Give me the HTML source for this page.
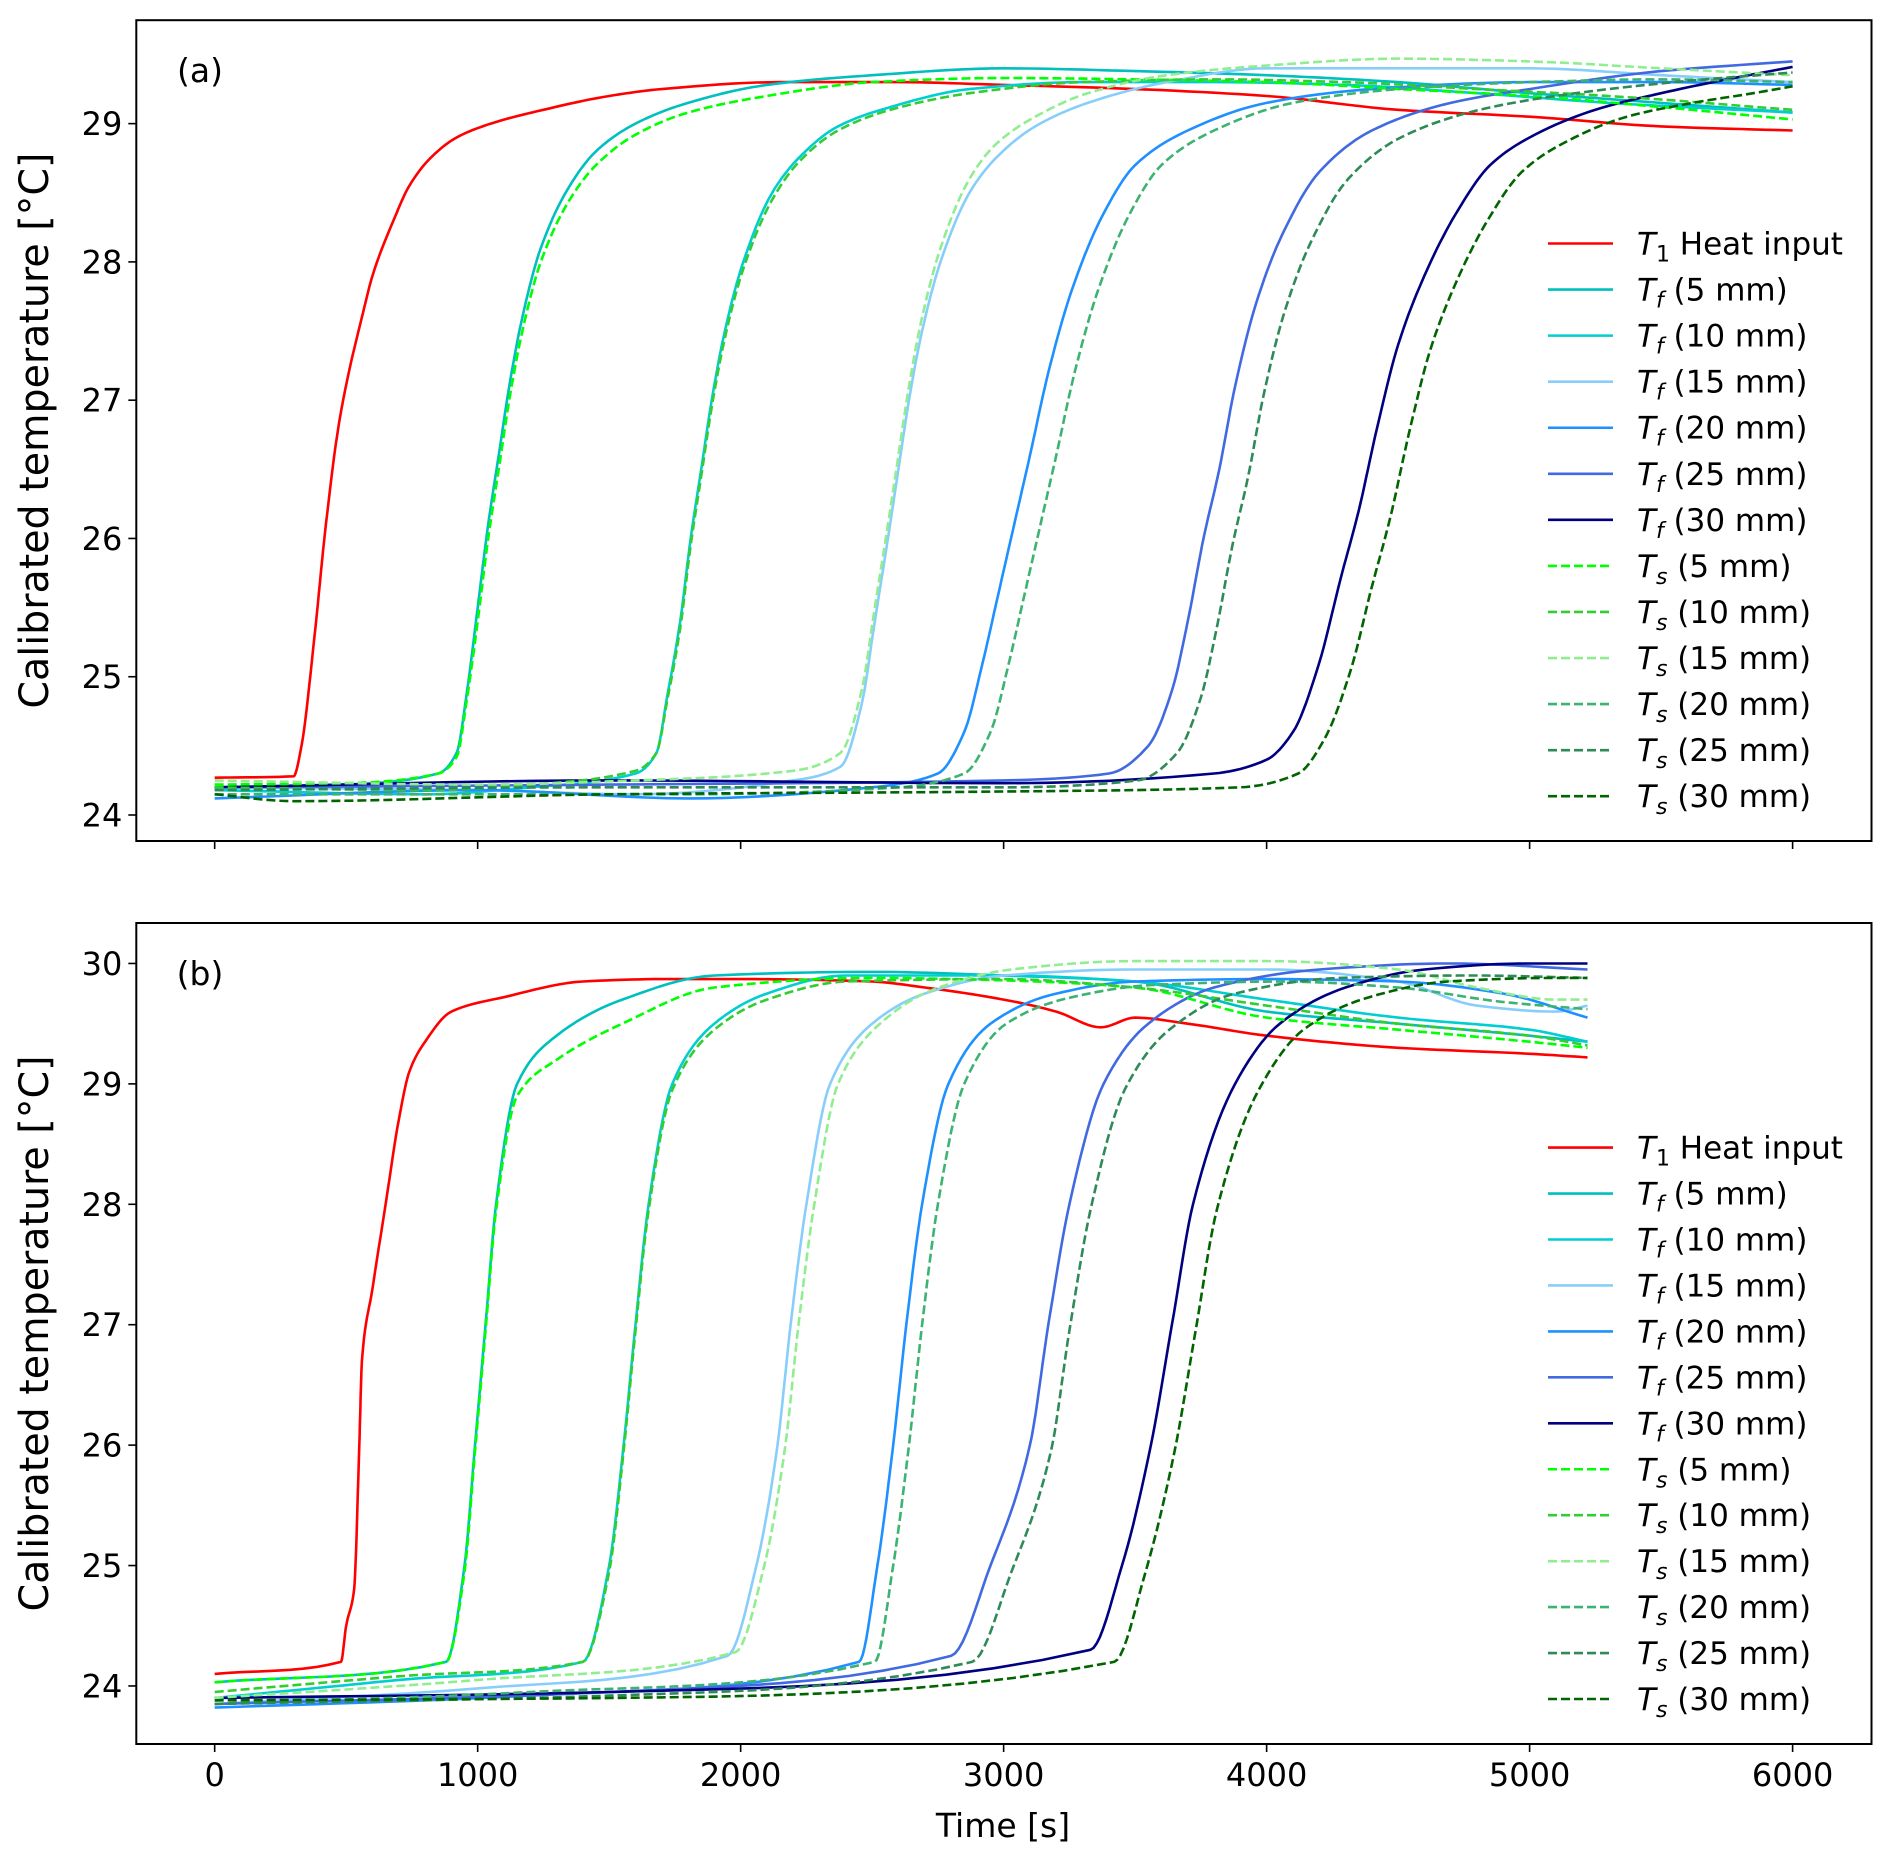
<!DOCTYPE html>
<html><head><meta charset="utf-8"><style>
html,body{margin:0;padding:0;background:#fff}
svg{display:block}
text{font-family:"DejaVu Sans","Liberation Sans",sans-serif;fill:#000}
</style></head><body>
<svg id="fig" width="1892" height="1863" viewBox="0 0 1892 1863" xmlns="http://www.w3.org/2000/svg"></svg>
<script>
// ---- data (panel a) ----
const a_T1_t=[0,300,330,380,420,470,510,560,600,680,740,820,920,1050,1250,1500,1700,2150,2600,3000,3500,4000,4500,5000,5500,6000];
const a_T1_v=[24.27,24.28,24.5,25.3,26.05,26.8,27.2,27.6,27.9,28.3,28.55,28.75,28.9,29.0,29.1,29.2,29.25,29.3,29.3,29.28,29.25,29.2,29.1,29.05,28.98,28.95];
const a_Tf5_t=[0,500,850,920,960,1000,1040,1080,1120,1170,1240,1350,1450,1600,1800,2100,2500,3000,3500,4000,4500,5000,5500,6000];
const a_Tf5_v=[24.2,24.22,24.3,24.45,24.9,25.5,26.1,26.6,27.1,27.6,28.1,28.55,28.8,29.0,29.15,29.28,29.35,29.4,29.38,29.35,29.3,29.22,29.15,29.08];
const a_Ts5_v=[24.22,24.23,24.3,24.42,24.85,25.4,26.0,26.5,27.0,27.5,28.0,28.45,28.7,28.92,29.08,29.2,29.3,29.33,29.32,29.3,29.25,29.2,29.12,29.03];
const a_Tf10_t=[0,800,1200,1600,1680,1720,1770,1810,1850,1890,1940,2010,2120,2220,2370,2570,2870,3300,3800,4300,4800,5300,6000];
const a_Tf10_v=[24.18,24.15,24.2,24.3,24.45,24.85,25.4,26.0,26.5,27.0,27.5,28.0,28.5,28.75,28.98,29.12,29.25,29.3,29.3,29.28,29.22,29.15,29.08];
const a_Ts10_v=[24.2,24.18,24.22,24.32,24.45,24.82,25.35,25.95,26.45,26.95,27.45,27.95,28.45,28.72,28.95,29.1,29.22,29.3,29.32,29.3,29.25,29.2,29.1];
const a_Tf15_t=[0,1000,1600,2200,2380,2460,2510,2560,2600,2640,2690,2760,2870,2970,3120,3320,3620,4000,4500,5000,5500,6000];
const a_Tf15_v=[24.2,24.18,24.15,24.25,24.35,24.8,25.4,26.0,26.5,27.0,27.5,28.0,28.5,28.75,28.98,29.15,29.3,29.4,29.4,29.4,29.35,29.3];
const a_Ts15_v=[24.25,24.22,24.25,24.32,24.45,24.9,25.5,26.1,26.6,27.1,27.6,28.1,28.6,28.85,29.05,29.22,29.35,29.42,29.47,29.45,29.4,29.35];
const a_Tf20_t=[0,1000,1800,2500,2750,2850,2920,2980,3040,3100,3170,3260,3380,3500,3700,4000,4400,5000,5500,6000];
const a_Tf20_v=[24.12,24.18,24.12,24.2,24.3,24.6,25.1,25.6,26.1,26.6,27.2,27.8,28.35,28.7,28.95,29.15,29.25,29.3,29.3,29.28];
const a_Ts20_t=[0,1000,1800,2600,2850,2950,3020,3080,3140,3200,3270,3360,3480,3600,3800,4100,4500,5000,5500,6000];
const a_Ts20_v=[24.15,24.15,24.15,24.2,24.3,24.6,25.1,25.6,26.1,26.6,27.2,27.8,28.35,28.7,28.95,29.15,29.25,29.3,29.32,29.3];
const a_Tf25_t=[0,1500,3000,3400,3550,3640,3700,3760,3820,3880,3960,4060,4200,4400,4700,5000,5500,6000];
const a_Tf25_v=[24.2,24.22,24.25,24.3,24.5,24.9,25.4,26.0,26.5,27.1,27.7,28.2,28.65,28.95,29.15,29.25,29.38,29.45];
const a_Ts25_t=[0,1500,3000,3510,3660,3750,3810,3870,3930,3990,4070,4170,4310,4510,4810,5100,5550,6000];
const a_Ts25_v=[24.18,24.2,24.2,24.25,24.45,24.85,25.35,25.95,26.45,27.05,27.65,28.15,28.6,28.9,29.1,29.2,29.3,29.37];
const a_Tf30_t=[0,1500,3000,3800,4000,4100,4200,4280,4350,4420,4500,4600,4720,4850,5000,5250,5500,5750,6000];
const a_Tf30_v=[24.2,24.25,24.23,24.3,24.4,24.6,25.1,25.7,26.2,26.8,27.4,27.9,28.35,28.7,28.9,29.1,29.22,29.32,29.41];
const a_Ts30_t=[0,300,1500,3000,3900,4120,4220,4320,4400,4470,4540,4620,4720,4840,4970,5120,5370,5620,5850,6000];
const a_Ts30_v=[24.15,24.1,24.15,24.17,24.2,24.3,24.55,25.05,25.65,26.15,26.75,27.35,27.85,28.3,28.65,28.85,29.05,29.15,29.22,29.27];
// ---- data (panel b) ----
const b_T1_t=[0,480,500,530,550,560,600,650,700,740,800,900,1100,1400,1700,2000,2500,2700,3000,3200,3370,3500,3700,4000,4500,5000,5220];
const b_T1_v=[24.1,24.2,24.5,24.8,26.0,26.7,27.3,28.0,28.7,29.1,29.35,29.6,29.72,29.85,29.87,29.87,29.85,29.8,29.7,29.6,29.47,29.55,29.5,29.4,29.3,29.25,29.22];
const b_Tf5_t=[0,880,950,990,1030,1070,1150,1300,1550,1900,2500,3000,3500,4000,4500,5000,5220];
const b_Tf5_v=[24.03,24.2,25.0,26.0,27.0,28.0,29.0,29.4,29.7,29.9,29.93,29.9,29.85,29.6,29.5,29.4,29.35];
const b_Ts5_v=[24.03,24.2,24.95,25.95,26.95,27.95,28.9,29.2,29.5,29.8,29.88,29.86,29.8,29.55,29.45,29.35,29.3];
const b_Tf10_t=[0,700,1400,1500,1555,1600,1650,1740,1900,2100,2400,3000,3500,4000,4500,5000,5220];
const b_Tf10_v=[23.9,24.05,24.2,25.0,26.0,27.0,28.0,29.0,29.5,29.75,29.9,29.9,29.85,29.7,29.55,29.45,29.35];
const b_Ts10_v=[23.95,24.08,24.2,24.95,25.95,26.95,27.95,28.95,29.45,29.7,29.85,29.87,29.8,29.65,29.5,29.4,29.32];
const b_Tf15_t=[0,1000,1950,2060,2140,2190,2250,2340,2500,2700,3000,3500,4000,4500,4800,5100,5220];
const b_Tf15_v=[23.85,23.98,24.25,25.0,26.0,27.0,28.0,29.0,29.5,29.75,29.9,29.95,29.95,29.85,29.65,29.6,29.65];
const b_Ts15_t=[0,1000,1980,2090,2170,2220,2280,2370,2530,2730,3030,3500,4000,4500,4800,5100,5220];
const b_Ts15_v=[23.9,24.05,24.28,25.0,26.0,27.0,28.0,29.0,29.5,29.78,29.95,30.02,30.02,29.95,29.8,29.7,29.7];
const b_Tf20_t=[0,1200,2450,2520,2580,2630,2690,2790,2950,3200,3500,4000,4500,4900,5220];
const b_Tf20_v=[23.82,23.92,24.2,25.0,26.0,27.0,28.0,29.0,29.5,29.75,29.85,29.87,29.85,29.75,29.55];
const b_Ts20_t=[0,1200,2510,2580,2640,2690,2750,2850,3010,3260,3560,4060,4500,4900,5220];
const b_Ts20_v=[23.85,23.95,24.2,25.0,26.0,27.0,28.0,29.0,29.5,29.72,29.82,29.85,29.8,29.68,29.62];
const b_Tf25_t=[0,1500,2800,2950,3100,3170,3250,3380,3550,3800,4200,4700,5220];
const b_Tf25_v=[23.85,23.95,24.25,25.0,26.0,27.0,28.0,29.0,29.5,29.8,29.95,30.0,29.95];
const b_Ts25_t=[0,1500,2880,3030,3180,3250,3330,3460,3630,3880,4280,4780,5220];
const b_Ts25_v=[23.85,23.92,24.2,24.95,25.95,26.95,27.95,28.95,29.45,29.75,29.88,29.9,29.88];
const b_Tf30_t=[0,1500,3330,3450,3560,3640,3720,3880,4050,4300,4600,5000,5220];
const b_Tf30_v=[23.9,23.95,24.3,25.0,26.0,27.0,28.0,29.0,29.5,29.8,29.95,30.0,30.0];
const b_Ts30_t=[0,1500,3420,3540,3650,3730,3810,3970,4140,4390,4690,5090,5220];
const b_Ts30_v=[23.88,23.9,24.2,24.95,25.95,26.95,27.95,28.95,29.45,29.72,29.85,29.88,29.88];
const xTicks=[0,1000,2000,3000,4000,5000,6000];
const yTicksA=[24,25,26,27,28,29];
const yTicksB=[24,25,26,27,28,29,30];
const labels=["T1 Heat input","Tf (5 mm)","Tf (10 mm)","Tf (15 mm)","Tf (20 mm)","Tf (25 mm)","Tf (30 mm)","Ts (5 mm)","Ts (10 mm)","Ts (15 mm)","Ts (20 mm)","Ts (25 mm)","Ts (30 mm)"];

const colors=["#ff0000","#00bfbf","#00ced1","#87cefa","#1e90ff","#4169e1","#000080","#00ff00","#32cd32","#90ee90","#3cb371","#2e8b57","#006400"];
const NS="http://www.w3.org/2000/svg";
const svg=document.getElementById('fig');
function el(tag,attrs,parent){const e=document.createElementNS(NS,tag);for(const k in attrs)e.setAttribute(k,attrs[k]);(parent||svg).appendChild(e);return e;}

const panels=[
 {name:'a',top:20.2,bottom:841,ymin:23.812,ymax:29.748,yt:yTicksA,legY:243.5,legStep:46.06,
  series:[[a_T1_t,a_T1_v],[a_Tf5_t,a_Tf5_v],[a_Tf10_t,a_Tf10_v],[a_Tf15_t,a_Tf15_v],[a_Tf20_t,a_Tf20_v],[a_Tf25_t,a_Tf25_v],[a_Tf30_t,a_Tf30_v],[a_Tf5_t,a_Ts5_v],[a_Tf10_t,a_Ts10_v],[a_Tf15_t,a_Ts15_v],[a_Ts20_t,a_Ts20_v],[a_Ts25_t,a_Ts25_v],[a_Ts30_t,a_Ts30_v]],xlabels:false},
 {name:'b',top:923,bottom:1744,ymin:23.518,ymax:30.336,yt:yTicksB,legY:1147.6,legStep:45.95,
  series:[[b_T1_t,b_T1_v],[b_Tf5_t,b_Tf5_v],[b_Tf10_t,b_Tf10_v],[b_Tf15_t,b_Tf15_v],[b_Tf20_t,b_Tf20_v],[b_Tf25_t,b_Tf25_v],[b_Tf30_t,b_Tf30_v],[b_Tf5_t,b_Ts5_v],[b_Tf10_t,b_Ts10_v],[b_Ts15_t,b_Ts15_v],[b_Ts20_t,b_Ts20_v],[b_Ts25_t,b_Ts25_v],[b_Ts30_t,b_Ts30_v]],xlabels:true}
];
const L=136.3,R=1871.5,XMIN=-298,XMAX=6300;
function xs(t){return L+(t-XMIN)/(XMAX-XMIN)*(R-L);}

function monoPath(T,V,ys){
 const n=T.length,d=[],m=new Array(n);
 for(let i=0;i<n-1;i++)d.push((V[i+1]-V[i])/(T[i+1]-T[i]));
 m[0]=d[0];m[n-1]=d[n-2];
 for(let i=1;i<n-1;i++){
  if(d[i-1]*d[i]<=0)m[i]=0;
  else{const w1=2*(T[i+1]-T[i])+(T[i]-T[i-1]),w2=(T[i+1]-T[i])+2*(T[i]-T[i-1]);m[i]=(w1+w2)/(w1/d[i-1]+w2/d[i]);}
 }
 let s='M'+xs(T[0]).toFixed(1)+','+ys(V[0]).toFixed(1);
 for(let i=0;i<n-1;i++){
  const h=T[i+1]-T[i],N=10;
  for(let k=1;k<=N;k++){
   const u=k/N,h00=2*u*u*u-3*u*u+1,h10=u*u*u-2*u*u+u,h01=-2*u*u*u+3*u*u,h11=u*u*u-u*u;
   const v=h00*V[i]+h10*h*m[i]+h01*V[i+1]+h11*h*m[i+1];
   s+=' L'+xs(T[i]+u*h).toFixed(1)+','+ys(v).toFixed(1);
  }
 }
 return s;
}

panels.forEach(p=>{
 const ys=v=>p.bottom-(v-p.ymin)/(p.ymax-p.ymin)*(p.bottom-p.top);
 const g=el('g',{});
 
 
 const cid='clip'+p.name;
 const cp=el('clipPath',{id:cid},g);
 el('rect',{x:L,y:p.top,width:R-L,height:p.bottom-p.top},cp);
 const lines=el('g',{'clip-path':'url(#'+cid+')'},g);
 p.series.forEach((s,i)=>{
  const path=el('path',{d:monoPath(s[0],s[1],ys),fill:'none',stroke:colors[i],'stroke-width':2.6,'stroke-linejoin':'round'},lines);
  if(i>=7)path.setAttribute('stroke-dasharray','9,4');
  
  
 });
 const frame=el('rect',{x:L,y:p.top,width:R-L,height:p.bottom-p.top,fill:'none',stroke:'#000','stroke-width':2},g);
 
 
 p.yt.forEach(v=>{
  const y=ys(v);
  el('line',{x1:L-8,x2:L,y1:y,y2:y,stroke:'#000','stroke-width':1.6},g);
  const t=el('text',{x:L-14,y:y+11.5,'text-anchor':'end','font-size':32},g);
  t.textContent=v;
  
  
 });
 xTicks.forEach(v=>{
  const x=xs(v);
  el('line',{x1:x,x2:x,y1:p.bottom,y2:p.bottom+8,stroke:'#000','stroke-width':1.6},g);
  if(p.xlabels){
   const t=el('text',{x:x,y:p.bottom+42,'text-anchor':'middle','font-size':32},g);
   t.textContent=v;
   
   
  }
 });
 const pl=el('text',{x:200,y:p.top+62,'text-anchor':'middle','font-size':33},g);
 pl.textContent='('+p.name+')';
 
 
 const yl=el('text',{transform:'translate(48,'+((p.top+p.bottom)/2)+') rotate(-90)','text-anchor':'middle','font-size':40,textLength:556,lengthAdjust:'spacingAndGlyphs','font-family':'Liberation Sans Narrow, Liberation Sans, sans-serif'},g);
 yl.textContent='Calibrated temperature [°C]';
 
 
 const lg=el('g',{},g);
 
 
 labels.forEach((lab,i)=>{
  const y=p.legY+i*p.legStep;
  const e=el('g',{},lg);
  
  
  const ln=el('line',{x1:1548,x2:1613,y1:y,y2:y,stroke:colors[i],'stroke-width':2.6},e);
  if(i>=7)ln.setAttribute('stroke-dasharray','9,4');
  const tx=el('text',{x:1637,y:y+11,'font-size':31},e);
  const sub=lab.charAt(1), rest=lab.slice(2);
  const t1=el('tspan',{'font-style':'italic'},tx); t1.textContent='T';
  const t2=el('tspan',{'font-size':22,dy:7,'font-style':sub==='1'?'normal':'italic'},tx); t2.textContent=sub;
  const t3=el('tspan',{dy:-7},tx); t3.textContent=rest;
 });
});
const xlab=el('text',{x:1003,y:1837,'text-anchor':'middle','font-size':33});
xlab.textContent='Time [s]';


</script>
</body></html>
